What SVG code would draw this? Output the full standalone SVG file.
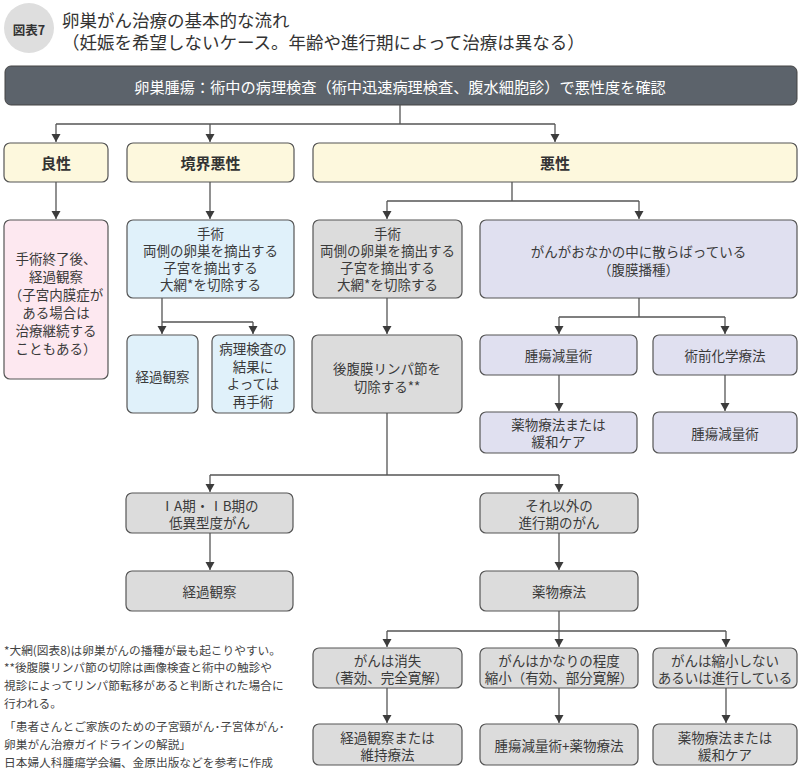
<svg xmlns="http://www.w3.org/2000/svg" width="803" height="769" viewBox="0 0 803 769">
<defs>
<marker id="ah" markerUnits="userSpaceOnUse" markerWidth="8" markerHeight="10" viewBox="0 0 8 10" refX="8" refY="5" orient="auto">
<path d="M0,0.5 L8,5 L0,9.5 z" fill="#3c3c3c"/>
</marker>
<style>
text{font-family:"Noto Sans CJK JP","Noto Sans",sans-serif;fill:#3a3a3a;}
.t{font-size:13.5px;text-anchor:middle;dominant-baseline:central;}
.h{font-size:15px;font-weight:bold;text-anchor:middle;dominant-baseline:central;fill:#333;}
.box{stroke:#555;stroke-width:1.2;}
.y{fill:#fdf8dd;}
.p{fill:#fde8f0;}
.b{fill:#e0f1fa;}
.g{fill:#dcdcdc;}
.v{fill:#e0e0f0;}
.c path{fill:none;stroke:#555;stroke-width:1.3;}
.fn{font-size:11.7px;fill:#444;}
</style>
</defs>
<rect width="803" height="769" fill="#fff"/>
<g id="title">
<circle cx="29" cy="28" r="25" fill="#dedede"/>
<text x="29" y="29" style="font-size:12.5px;font-weight:bold;text-anchor:middle;dominant-baseline:central;fill:#333">図表7</text>
<text x="62" y="19" style="font-size:17.5px;dominant-baseline:central;fill:#333">卵巣がん治療の基本的な流れ</text>
<text x="62" y="41" style="font-size:17.5px;dominant-baseline:central;fill:#333">（妊娠を希望しないケース。年齢や進行期によって治療は異なる）</text>
</g>
<g id="top">
<rect x="5" y="66" width="792" height="39" rx="6" fill="#5c636b" stroke="#444" stroke-width="1"/>
<text x="400" y="86" style="font-size:15.2px;text-anchor:middle;dominant-baseline:central;fill:#fff">卵巣腫瘍：術中の病理検査（術中迅速病理検査、腹水細胞診）で悪性度を確認</text>
</g>
<g class="c">
<path d="M400,105 V124 M56,124 H555"/>
<path d="M56,124 V142" marker-end="url(#ah)"/>
<path d="M210,124 V142" marker-end="url(#ah)"/>
<path d="M555,124 V142" marker-end="url(#ah)"/>
<path d="M56,182 V219" marker-end="url(#ah)"/>
<path d="M210,182 V219" marker-end="url(#ah)"/>
<path d="M512,182 V201 M387,201 H639"/>
<path d="M387,201 V219" marker-end="url(#ah)"/>
<path d="M639,201 V219" marker-end="url(#ah)"/>
<path d="M162,298 V322 M162,322 H253"/>
<path d="M162,322 V334" marker-end="url(#ah)"/>
<path d="M253,322 V334" marker-end="url(#ah)"/>
<path d="M387,298 V334" marker-end="url(#ah)"/>
<path d="M639,298 V317 M559,317 H725"/>
<path d="M559,317 V334" marker-end="url(#ah)"/>
<path d="M725,317 V334" marker-end="url(#ah)"/>
<path d="M559,375 V411" marker-end="url(#ah)"/>
<path d="M725,375 V411" marker-end="url(#ah)"/>
<path d="M387,413 V475 M210,475 H559"/>
<path d="M210,475 V492" marker-end="url(#ah)"/>
<path d="M559,475 V492" marker-end="url(#ah)"/>
<path d="M210,533 V570" marker-end="url(#ah)"/>
<path d="M559,533 V570" marker-end="url(#ah)"/>
<path d="M559,611 V631 M387,631 H726"/>
<path d="M387,631 V647" marker-end="url(#ah)"/>
<path d="M559,631 V647" marker-end="url(#ah)"/>
<path d="M726,631 V647" marker-end="url(#ah)"/>
<path d="M387,688 V723" marker-end="url(#ah)"/>
<path d="M559,688 V723" marker-end="url(#ah)"/>
<path d="M726,688 V723" marker-end="url(#ah)"/>
</g>
<g id="benign">
<rect class="box y" x="4" y="143" width="104" height="39" rx="6"/>
<text class="h" x="56" y="162">良性</text>
</g>
<g id="borderline">
<rect class="box y" x="127" y="143" width="167" height="39" rx="6"/>
<text class="h" x="210.5" y="162">境界悪性</text>
</g>
<g id="malignant">
<rect class="box y" x="313" y="143" width="484" height="39" rx="6"/>
<text class="h" x="555" y="162">悪性</text>
</g>
<g id="benign-followup">
<rect class="box p" x="4" y="220" width="104" height="159" rx="6"/>
<text class="t" x="56" y="258">手術終了後、</text>
<text class="t" x="56" y="276">経過観察</text>
<text class="t" x="56" y="294">（子宮内膜症が</text>
<text class="t" x="56" y="312">ある場合は</text>
<text class="t" x="56" y="330">治療継続する</text>
<text class="t" x="56" y="348">こともある）</text>
</g>
<g id="borderline-surgery">
<rect class="box b" x="127" y="220" width="167" height="78" rx="6"/>
<text class="t" x="210.5" y="233">手術</text>
<text class="t" x="210.5" y="250">両側の卵巣を摘出する</text>
<text class="t" x="210.5" y="267">子宮を摘出する</text>
<text class="t" x="210.5" y="284">大網*を切除する</text>
</g>
<g id="malignant-surgery">
<rect class="box g" x="313" y="220" width="149" height="78" rx="6"/>
<text class="t" x="387.5" y="233">手術</text>
<text class="t" x="387.5" y="250">両側の卵巣を摘出する</text>
<text class="t" x="387.5" y="267">子宮を摘出する</text>
<text class="t" x="387.5" y="284">大網*を切除する</text>
</g>
<g id="dissemination">
<rect class="box v" x="480" y="220" width="317" height="78" rx="6"/>
<text class="t" x="638.5" y="251">がんがおなかの中に散らばっている</text>
<text class="t" x="638.5" y="269">（腹膜播種）</text>
</g>
<g id="borderline-observe">
<rect class="box b" x="127" y="335" width="71" height="78" rx="6"/>
<text class="t" x="162.5" y="376">経過観察</text>
</g>
<g id="borderline-reop">
<rect class="box b" x="212" y="335" width="82" height="78" rx="6"/>
<text class="t" x="253" y="348">病理検査の</text>
<text class="t" x="253" y="366">結果に</text>
<text class="t" x="253" y="383">よっては</text>
<text class="t" x="253" y="401">再手術</text>
</g>
<g id="lymph">
<rect class="box g" x="312" y="335" width="150" height="78" rx="6"/>
<text class="t" x="387" y="368">後腹膜リンパ節を</text>
<text class="t" x="387" y="386">切除する**</text>
</g>
<g id="debulk1">
<rect class="box v" x="480" y="335" width="157" height="40" rx="6"/>
<text class="t" x="558.5" y="355">腫瘍減量術</text>
</g>
<g id="neoadjuvant">
<rect class="box v" x="653" y="335" width="144" height="40" rx="6"/>
<text class="t" x="725" y="355">術前化学療法</text>
</g>
<g id="drug-care1">
<rect class="box v" x="480" y="412" width="157" height="41" rx="6"/>
<text class="t" x="558.5" y="424">薬物療法または</text>
<text class="t" x="558.5" y="441">緩和ケア</text>
</g>
<g id="debulk2">
<rect class="box v" x="653" y="412" width="144" height="41" rx="6"/>
<text class="t" x="725" y="433">腫瘍減量術</text>
</g>
<g id="early">
<rect class="box g" x="126" y="493" width="167" height="40" rx="6"/>
<text class="t" x="209.5" y="505">ⅠA期・ⅠB期の</text>
<text class="t" x="209.5" y="522">低異型度がん</text>
</g>
<g id="early-observe">
<rect class="box g" x="126" y="571" width="167" height="40" rx="6"/>
<text class="t" x="209.5" y="591">経過観察</text>
</g>
<g id="advanced">
<rect class="box g" x="480" y="493" width="158" height="40" rx="6"/>
<text class="t" x="559" y="505">それ以外の</text>
<text class="t" x="559" y="522">進行期のがん</text>
</g>
<g id="chemo">
<rect class="box g" x="480" y="571" width="158" height="40" rx="6"/>
<text class="t" x="559" y="591">薬物療法</text>
</g>
<g id="cr">
<rect class="box g" x="313" y="648" width="149" height="40" rx="6"/>
<text class="t" x="387.5" y="660">がんは消失</text>
<text class="t" x="387.5" y="677">（著効、完全寛解）</text>
</g>
<g id="pr">
<rect class="box g" x="480" y="648" width="158" height="40" rx="6"/>
<text class="t" x="559" y="660">がんはかなりの程度</text>
<text class="t" x="559" y="677">縮小（有効、部分寛解）</text>
</g>
<g id="pd">
<rect class="box g" x="653" y="648" width="144" height="40" rx="6"/>
<text class="t" x="725" y="660">がんは縮小しない</text>
<text class="t" x="725" y="677">あるいは進行している</text>
</g>
<g id="maintenance">
<rect class="box g" x="313" y="724" width="149" height="41" rx="6"/>
<text class="t" x="387.5" y="737">経過観察または</text>
<text class="t" x="387.5" y="754">維持療法</text>
</g>
<g id="debulk-chemo">
<rect class="box g" x="480" y="724" width="158" height="41" rx="6"/>
<text class="t" x="559" y="745">腫瘍減量術+薬物療法</text>
</g>
<g id="drug-care2">
<rect class="box g" x="653" y="724" width="144" height="41" rx="6"/>
<text class="t" x="725" y="737">薬物療法または</text>
<text class="t" x="725" y="754">緩和ケア</text>
</g>
<g id="notes">
<text class="fn" x="4" y="655">*大網(図表8)は卵巣がんの播種が最も起こりやすい。</text>
<text class="fn" x="4" y="672">**後腹膜リンパ節の切除は画像検査と術中の触診や</text>
<text class="fn" x="4" y="690">視診によってリンパ節転移があると判断された場合に</text>
<text class="fn" x="4" y="708">行われる。</text>
<text class="fn" x="4" y="731">「患者さんとご家族のための子宮頸がん･子宮体がん･</text>
<text class="fn" x="4" y="749">卵巣がん治療ガイドラインの解説」</text>
<text class="fn" x="4" y="767">日本婦人科腫瘍学会編、金原出版などを参考に作成</text>
</g>
</svg>
